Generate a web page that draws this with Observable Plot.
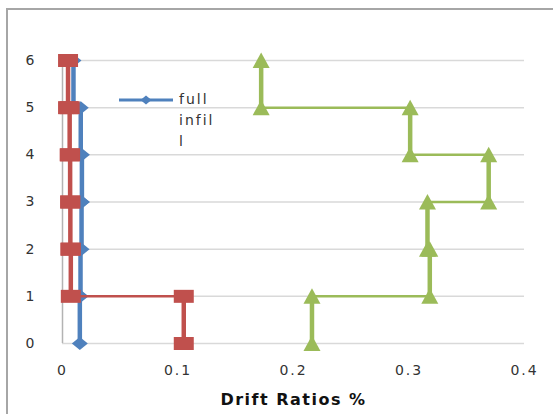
<!DOCTYPE html>
<html>
<head>
<meta charset="utf-8">
<script src="https://cdn.jsdelivr.net/npm/d3@7"></script>
<script src="https://cdn.jsdelivr.net/npm/@observablehq/plot@0.6"></script>
<style>
  html, body { margin: 0; padding: 0; background: #fff; overflow: hidden; }
  #wrap { position: relative; width: 553px; height: 414px; overflow: hidden; }
  #chart { position: absolute; left: 0; top: 0; }
  #frame { position: absolute; left: 6px; top: 8px; width: 800px; height: 800px;
           border-left: 2px solid #a6a6a6; border-top: 2px solid #a6a6a6; pointer-events: none; }
  #legend { position: absolute; left: 119px; top: 89px; font-family: "DejaVu Sans", sans-serif;
            font-size: 14px; color: #333; letter-spacing: 2px; }
  #legend svg { position: absolute; left: 0; top: 0; }
  #legend .txt { position: absolute; left: 60px; top: 0; line-height: 21px; white-space: nowrap; color: #333; }
  svg text { letter-spacing: 2px; }
  g[aria-label="text"] text { letter-spacing: 1.5px; }
</style>
</head>
<body>
<div id="wrap">
  <div id="chart"></div>
  <div id="frame"></div>
  <div id="legend">
    <svg width="60" height="22"></svg>
    <div class="txt">full<br>infil<br>l</div>
  </div>
</div>
<script>
// Story levels (top of each story) and drift ratio (%) per story
const stories = [1, 2, 3, 4, 5, 6];
const fullInfill = [0.0150, 0.0156, 0.0165, 0.0168, 0.0158, 0.0095];
const series2 = [0.105, 0.0072, 0.0068, 0.0066, 0.0062, 0.0048];
const series3 = [0.216, 0.318, 0.316, 0.369, 0.301, 0.172];
const seriesNames = ["full infill", "series 2", "series 3"];
const colors = ["#4f81bd", "#c0504d", "#9bbb59"];
const yTicks = [0, 1, 2, 3, 4, 5, 6];
const yTickLabels = ["0", "1", "2", "3", "4", "5", "6"];
const xTicks = [0, 0.1, 0.2, 0.3, 0.4];
const xTickLabels = ["0", "0.1", "0.2", "0.3", "0.4"];
const xTitle = "Drift Ratios %";

// Marker shapes (wide, like the stretched original)
const squareSym = { draw(c) { c.moveTo(-10, -6.5); c.lineTo(10, -6.5); c.lineTo(10, 6.5); c.lineTo(-10, 6.5); c.closePath(); } };
const triSym = { draw(c) { c.moveTo(0, -8); c.lineTo(8.5, 7.5); c.lineTo(-8.5, 7.5); c.closePath(); } };
const diaSym = { draw(c) { c.moveTo(0, -6.5); c.lineTo(8, 0); c.lineTo(0, 6.5); c.lineTo(-8, 0); c.closePath(); } };
const symbols = [diaSym, squareSym, triSym];

function stepMarks(values, color, sym) {
  const verts = values.map((d, i) => ({ x: d, y1: stories[i] - 1, y2: stories[i] }));
  const horiz = values.slice(1).map((d, i) => ({ y: stories[i], x1: values[i], x2: d }));
  const pts = values.flatMap((d, i) => [{ x: d, y: stories[i] - 1 }, { x: d, y: stories[i] }]);
  return [
    Plot.ruleY(horiz, { y: "y", x1: "x1", x2: "x2", stroke: color, strokeWidth: 2.5 }),
    Plot.ruleX(verts, { x: "x", y1: "y1", y2: "y2", stroke: color, strokeWidth: 4.5 }),
    Plot.dot(pts, { x: "x", y: "y", symbol: sym, fill: color, stroke: "none" })
  ];
}

const allSeries = [fullInfill, series2, series3];

const chart = Plot.plot({
  width: 553,
  height: 414,
  marginLeft: 62,
  marginRight: 29,
  marginTop: 60,
  marginBottom: 71,
  style: { fontFamily: "DejaVu Sans, sans-serif", background: "#fff", overflow: "visible" },
  x: { domain: [xTicks[0], xTicks[xTicks.length - 1]] },
  y: { domain: [yTicks[0], yTicks[yTicks.length - 1]] },
  marks: [
    Plot.ruleY(yTicks, { stroke: "#d9d9d9", strokeWidth: 1.5 }),
    Plot.ruleX([xTicks[0]], { y1: yTicks[0], y2: yTicks[yTicks.length - 1], stroke: "#b3b3b3", strokeWidth: 1.5 }),
    Plot.axisY({ ticks: yTicks, tickFormat: d => yTickLabels[yTicks.indexOf(d)], tickSize: 0, tickPadding: 26, fontSize: 14, fill: "#333", label: null }),
    Plot.axisX({ ticks: xTicks, tickFormat: d => xTickLabels[xTicks.indexOf(d)], tickSize: 0, tickPadding: 22, fontSize: 14, fill: "#333", label: null }),
    ...allSeries.flatMap((s, k) => stepMarks(s, colors[k], symbols[k])),
    Plot.text([xTitle], { frameAnchor: "bottom", dy: 61, fontSize: 16, fontWeight: "bold", fill: "#111" })
  ]
});
document.getElementById("chart").appendChild(chart);

// Legend (first series only, as in the original)
const lsvg = d3.select("#legend svg");
lsvg.append("line").attr("x1", 0).attr("x2", 54).attr("y1", 11).attr("y2", 11)
  .attr("stroke", colors[0]).attr("stroke-width", 3);
lsvg.append("path").attr("transform", "translate(27,11)").attr("d", "M0,-4.5L5.5,0L0,4.5L-5.5,0Z").attr("fill", colors[0]);
</script>
</body>
</html>
